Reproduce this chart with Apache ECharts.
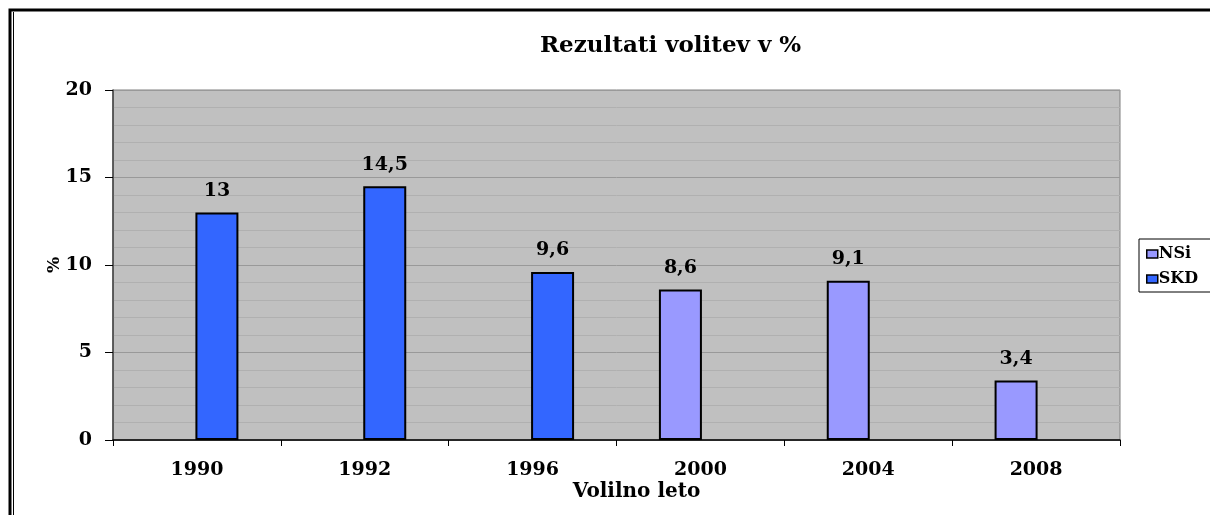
<!DOCTYPE html>
<html><head><meta charset="utf-8">
<script src="https://cdn.jsdelivr.net/npm/echarts@6/dist/echarts.min.js"></script>
<style>html,body{margin:0;padding:0;background:#fff}#c{width:1210px;height:515px}</style>
</head><body><div id="c"></div>
<script>
var categories = ['1990','1992','1996','2000','2004','2008'];
var skd = [13, 14.5, 9.6, null, null, null];
var nsi = [null, null, null, 8.6, 9.1, 3.4];
var yTicks = [0, 5, 10, 15, 20];

var font = '"DejaVu Serif", serif';
var chart = echarts.init(document.getElementById('c'));
function fmt(p){ return String(p.value).replace('.', ','); }
var labelStyle = {show:true, position:'top', distance:12, formatter:fmt, fontFamily:font, fontWeight:'bold', fontSize:19, color:'#000'};
chart.setOption({
  animation:false,
  backgroundColor:'#fff',
  title:{text:'Rezultati volitev v %', left:535, top:30, textStyle:{fontFamily:font, fontWeight:'bold', fontSize:23, color:'#000'}},
  legend:{
    orient:'vertical', left:1139, top:239, itemWidth:11, itemHeight:8, itemGap:9, icon:'rect',
    borderColor:'#000', borderWidth:1, padding:[7,16,5,7],
    textStyle:{fontFamily:font, fontWeight:'bold', fontSize:16, lineHeight:16, color:'#000', padding:[0,0,0,-4]},
    data:[{name:'NSi', itemStyle:{color:'#9999ff', borderColor:'#000', borderWidth:1.5}}, {name:'SKD', itemStyle:{color:'#3366ff', borderColor:'#000', borderWidth:1.5}}]
  },
  grid:{left:113, right:90, top:90, bottom:75, show:true, backgroundColor:'#c0c0c0', borderColor:'#808080', borderWidth:1},
  xAxis:{
    type:'category', data:categories,
    name:'Volilno leto', nameLocation:'middle', nameGap:42, nameMoveOverlap:false,
    nameTextStyle:{fontFamily:font, fontWeight:'bold', fontSize:20, color:'#000', padding:[0,0,0,40]},
    axisLine:{lineStyle:{color:'#000', width:1.5}},
    axisTick:{show:true, alignWithLabel:false, length:6, lineStyle:{color:'#000'}},
    axisLabel:{fontFamily:font, fontWeight:'bold', fontSize:19, color:'#000', margin:21},
    splitLine:{show:false}
  },
  yAxis:{
    type:'value', min:0, max:20, interval:5,
    name:'%', nameLocation:'middle', nameGap:50, nameRotate:90, nameMoveOverlap:false,
    nameTextStyle:{fontFamily:font, fontWeight:'bold', fontSize:17, color:'#000'},
    axisLine:{show:true, lineStyle:{color:'#404040', width:1.5}},
    axisTick:{show:true, length:8, lineStyle:{color:'#000'}},
    axisLabel:{fontFamily:font, fontWeight:'bold', fontSize:19, color:'#000', margin:21,
      formatter:function(v){ return yTicks.indexOf(v) >= 0 ? String(v) : ''; }},
    splitLine:{show:true, lineStyle:{color:'#999999', width:1}},
    minorTick:{show:false, splitNumber:5},
    minorSplitLine:{show:true, lineStyle:{color:'#b0b0b0', width:1}}
  },
  series:[
    {name:'NSi', type:'bar', data:nsi, barWidth:43, barGap:'-7%', itemStyle:{color:'#9999ff', borderColor:'#000', borderWidth:2}, label:labelStyle},
    {name:'SKD', type:'bar', data:skd, barWidth:43, barGap:'-7%', itemStyle:{color:'#3366ff', borderColor:'#000', borderWidth:2}, label:labelStyle}
  ],
  graphic:[
    {type:'rect', shape:{x:10, y:10, width:1220, height:520}, style:{fill:null, stroke:'#000', lineWidth:3}, silent:true},
    {type:'line', shape:{x1:13.5, y1:12, x2:13.5, y2:520}, style:{stroke:'#000', lineWidth:1}, silent:true}
  ]
});
</script></body></html>
